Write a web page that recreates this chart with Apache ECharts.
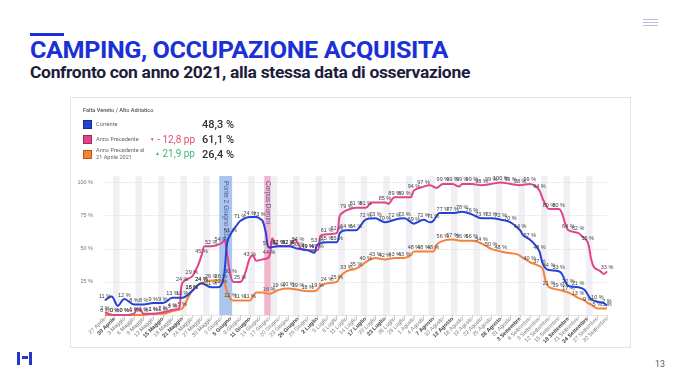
<!DOCTYPE html>
<html><head><meta charset="utf-8">
<script src="https://cdn.jsdelivr.net/npm/echarts@6/dist/echarts.min.js"></script>
<style>
html,body{margin:0;padding:0;background:#fff;}
#page{position:relative;width:680px;height:383px;overflow:hidden;font-family:Roboto,'Liberation Sans',sans-serif;}
#frame{position:absolute;left:70px;top:97px;width:559px;height:249px;border:1px solid #e3e3e3;background:#fff;}
#chart{position:absolute;left:0;top:0;width:680px;height:383px;}
.abs{position:absolute;white-space:nowrap;line-height:1;}
.sq{position:absolute;width:7px;height:7px;border:1px solid;}
</style></head><body>
<div id="page">
  <div class="abs" style="left:30px;top:33px;width:34px;height:3px;background:#1b31d4"></div>
  <div id="title" class="abs" style="left:30px;top:38px;font-size:24px;font-weight:700;color:#1b31d4;letter-spacing:-0.4px;transform-origin:0 0">CAMPING, OCCUPAZIONE ACQUISITA</div>
  <div id="subtitle" class="abs" style="left:30px;top:65px;font-size:16.5px;font-weight:700;color:#1d1d3b;letter-spacing:-0.3px;transform-origin:0 0">Confronto con anno 2021, alla stessa data di osservazione</div>
  <div class="abs" style="left:643px;top:19px;width:15px;height:1px;background:#b8bde0"></div>
  <div class="abs" style="left:643px;top:22px;width:15px;height:1px;background:#b8bde0"></div>
  <div class="abs" style="left:643px;top:25px;width:15px;height:1px;background:#b8bde0"></div>
  <div id="frame"></div>
  <div id="chart"></div>
  <div id="legend"></div>
  <div class="abs" style="left:17px;top:352px;width:3px;height:13px;background:#2636c9"></div>
  <div class="abs" style="left:22px;top:356px;width:6px;height:3px;background:#2636c9"></div>
  <div class="abs" style="left:29px;top:352px;width:3px;height:13px;background:#2636c9"></div>
  <div class="abs" style="left:655px;top:360px;font-size:9px;color:#555">13</div>
</div>
<script>
// ---- data ----
const dayLabels = ['27 Aprile','30 Aprile','3 Maggio','6 Maggio','9 Maggio','12 Maggio','15 Maggio','18 Maggio','21 Maggio','24 Maggio','27 Maggio','30 Maggio','2 Giugno','5 Giugno','8 Giugno','11 Giugno','14 Giugno','17 Giugno','20 Giugno','23 Giugno','26 Giugno','29 Giugno','2 Luglio','5 Luglio','8 Luglio','11 Luglio','14 Luglio','17 Luglio','20 Luglio','23 Luglio','26 Luglio','29 Luglio','1 Agosto','4 Agosto','7 Agosto','10 Agosto','13 Agosto','16 Agosto','19 Agosto','22 Agosto','25 Agosto','28 Agosto','31 Agosto','3 Settembre','6 Settembre','9 Settembre','12 Settembre','15 Settembre','18 Settembre','21 Settembre','24 Settembre','27 Settembre','30 Settembre'];
const boldLabels = ['30 Aprile','15 Maggio','21 Maggio','5 Giugno','11 Giugno','26 Giugno','2 Luglio','17 Luglio','23 Luglio','7 Agosto','13 Agosto','28 Agosto','3 Settembre','18 Settembre','24 Settembre'];
const weekendStarts = [3,10,17,24,31,38,45,52,59,66,73,80,87,94,101,108,115,122,129,136,143,150];
const pontePeriod = [35.5, 39.5];
const corpusPeriod = [49.5, 51.5];
const yTickLabels = [25,50,75,100];

const corrente = [[0,11],[2,14],[4,7],[6,12],[9,8],[12,8],[15,9],[18,9],[21,13],[24,13],[27,18],[30,24],[33,21],[35,21],[36,22],[37,30],[38,55],[39,61],[41,68],[42,71],[45,74],[47,74],[48,73],[49,71],[50,62],[51,51],[54,52],[57,52],[60,50],[63,49],[65,47],[66,53],[69,55],[72,55],[73,62],[75,64],[78,64],[79,66],[81,72],[84,73],[87,70],[90,72],[93,73],[96,69],[99,72],[101,70],[102,71],[104,77],[105,77],[108,77],[111,78],[114,76],[117,73],[120,73],[123,72],[126,70],[129,64],[130,60],[132,57],[134,52],[135,48],[136,39],[137,35],[138,34],[141,33],[142,31],[144,22],[147,21],[149,19],[151,12],[153,10],[155,9],[156,7]];
const annoPrec = [[0,2],[3,0],[6,0],[9,1],[10,5],[11,4],[12,1],[15,1],[18,2],[21,4],[23,5],[24,24],[27,29],[28,33],[29,38],[30,45],[31,52],[33,52],[35,53],[36,54],[37,56],[38,45],[39,30],[40,25],[42,25],[43,28],[44,35],[45,43],[46,45],[47,41],[49,42],[51,44],[52,58],[53,54],[54,52],[57,52],[59,57],[60,54],[61,50],[63,49],[66,49],[67,60],[69,61],[72,62],[73,75],[75,79],[78,81],[81,81],[83,85],[87,85],[88,84],[90,89],[93,89],[95,89],[96,94],[99,97],[101,98],[103,96],[105,99],[108,99],[110,97],[111,99],[114,99],[117,98],[120,99],[123,100],[126,99],[129,98],[132,99],[134,97],[135,94],[136,88],[137,83],[138,80],[141,80],[142,77],[143,69],[144,64],[147,62],[148,60],[150,55],[151,43],[152,36],[154,33],[155,31],[156,33]];
const annoPrecApr = [[0,0],[3,0],[6,0],[9,0],[12,0],[15,1],[18,1],[21,3],[23,4],[24,5],[25,9],[26,14],[27,18],[28,21],[30,24],[33,26],[36,26],[37,25],[38,17],[39,12],[40,11],[42,11],[45,11],[46,14],[47,17],[49,17],[51,16],[54,19],[57,20],[60,19],[63,18],[65,18],[66,19],[67,22],[69,24],[72,25],[73,29],[75,33],[78,35],[80,38],[81,40],[84,43],[87,42],[90,43],[93,43],[95,45],[96,48],[99,48],[102,48],[103,53],[105,56],[108,57],[111,56],[114,56],[117,54],[120,50],[123,48],[125,47],[128,46],[130,43],[132,40],[135,37],[136,35],[137,25],[138,21],[141,19],[144,17],[147,13],[149,11],[150,9],[151,8],[153,5],[156,5]];

const legendItems = [
  {name:'Corrente', color:'#2443d6', border:'#1a2a8a', value:'48,3 %', delta:'', deltaColor:''},
  {name:'Anno Precedente', color:'#e0448a', border:'#a8285e', value:'61,1 %', delta:'▼ - 12,8 pp', deltaColor:'#e0506e'},
  {name:'Anno Precedente al\n21 Aprile 2021', color:'#f5823a', border:'#b8561a', value:'26,4 %', delta:'▲ 21,9 pp', deltaColor:'#3dba7a'}
];
const legendTitle = 'Falta Veneto / Alto Adriatico';

// ---- fit slide texts ----
function fitWidth(id, w){const el=document.getElementById(id);const r=el.getBoundingClientRect().width;el.style.transform='scaleX('+(w/r)+')';}
fitWidth('title', 418);
fitWidth('subtitle', 440);

// ---- legend (HTML) ----
const lg = document.getElementById('legend');
let html = '<div class="abs" style="left:83px;top:108px;font-size:5.6px;color:#555;font-weight:500">'+legendTitle+'</div>';
const rowsY = [124.5, 139.5, 154];
legendItems.forEach((it,i)=>{
  const cy = rowsY[i];
  html += '<div class="sq" style="left:83px;top:'+(cy-4.5)+'px;background:'+it.color+';border-color:'+it.border+'"></div>';
  const lines = it.name.split('\n');
  lines.forEach((ln,j)=>{
    const off = lines.length>1 ? (j===0?-6:0.5) : -2.8;
    html += '<div class="abs" style="left:96px;top:'+(cy+off)+'px;font-size:5.6px;color:#666">'+ln+'</div>';
  });
  if(it.delta){
    html += '<div class="abs" style="right:'+(680-195)+'px;top:'+(cy-5)+'px;font-size:10px;color:'+it.deltaColor+'">'+it.delta.replace(/^([▼▲])/,'<span style="font-size:5px;vertical-align:2px">$1</span>')+'</div>';
  }
  html += '<div class="abs" style="right:'+(680-234)+'px;top:'+(cy-5.5)+'px;font-size:11px;color:#333;font-weight:500">'+it.value+'</div>';
});
lg.innerHTML = html;

// ---- chart ----
const chart = echarts.init(document.getElementById('chart'), null, {renderer:'canvas'});
const bandData = weekendStarts.map(d=>[{xAxis:d-0.5},{xAxis:d+1.5}]);
const lblFmt = p => (p.value[0] % 3 === 0 ? Math.round(p.value[1]) + ' %' : '');
function lineSeries(name, data, color, z){
  return {name, type:'line', data, smooth:0.35, z, symbol:'circle', symbolSize:0.1, showSymbol:true,
    lineStyle:{color, width:2}, itemStyle:{color},
    label:{show:true, position:'top', distance:1, fontSize:5.5, color:'#444', fontWeight:500, formatter:lblFmt},
    emphasis:{disabled:true}, animation:false};
}
chart.setOption({
  animation:false,
  grid:{left:105, right:73, top:176, bottom:68},
  xAxis:{type:'value', min:0, max:156, interval:3,
    axisLine:{show:true, lineStyle:{color:'#e6e6e6'}},
    axisTick:{show:true, length:3, lineStyle:{color:'#cfcfcf'}},
    splitLine:{show:false},
    axisLabel:{rotate:45, fontSize:5.5, color:'#6a6a6a', margin:3, showMaxLabel:true, showMinLabel:true,
      formatter:v=>{const t=dayLabels[Math.round(v/3)]||''; return boldLabels.includes(t)?'{b|'+t+'}':'{n|'+t+'}';},
      rich:{b:{fontWeight:'bold', fontSize:5.5, color:'#444'}, n:{fontSize:5.5, color:'#777'}}}
  },
  yAxis:{type:'value', min:0, max:105, interval:25,
    axisLine:{show:false}, axisTick:{show:false},
    axisLabel:{fontSize:5.5, color:'#777', margin:12, formatter:v=>yTickLabels.includes(v)?v+' %':''},
    splitLine:{show:true, showMaxLine:false, lineStyle:{color:'#eeeeee'}}
  },
  series:[
    {type:'line', data:[], z:1, silent:true,
      markArea:{silent:true, itemStyle:{color:'rgba(228,228,236,0.6)'}, data:bandData}},
    {type:'line', data:[], z:1, silent:true,
      markArea:{silent:true, data:[
        [{xAxis:pontePeriod[0], itemStyle:{color:'#abc5ec'}, label:{show:true, formatter:'Ponte 2 Giugno 2022'}},{xAxis:pontePeriod[1]}],
        [{xAxis:corpusPeriod[0], itemStyle:{color:'#f2b6cf'}, label:{show:true, formatter:'Corpus Domini'}},{xAxis:corpusPeriod[1]}]
      ], label:{position:'insideTop', rotate:-90, align:'left', verticalAlign:'middle', distance:5, fontSize:6.5, color:'#4a5a9a'}}},
    lineSeries('Anno Precedente al 21 Aprile 2021', annoPrecApr, '#f5823a', 3),
    lineSeries('Anno Precedente', annoPrec, '#e0448a', 4),
    lineSeries('Corrente', corrente, '#2443d6', 5)
  ]
});
</script>
</body></html>
